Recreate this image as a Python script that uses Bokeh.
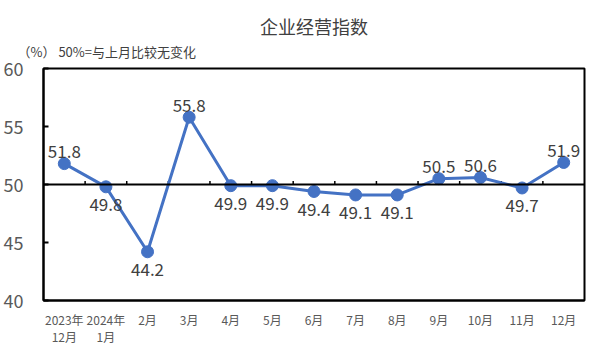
from bokeh.plotting import figure
from bokeh.models import ColumnDataSource, Span, Title, FixedTicker
from bokeh.core.properties import value
from bokeh.embed import file_html
from bokeh.resources import INLINE

categories = ["2023年\n12月", "2024年\n1月", "2月", "3月", "4月", "5月", "6月",
              "7月", "8月", "9月", "10月", "11月", "12月"]
values = [51.8, 49.8, 44.2, 55.8, 49.9, 49.9, 49.4, 49.1, 49.1, 50.5, 50.6, 49.7, 51.9]
label_side = ["above", "below", "below", "above", "below", "below", "below",
              "below", "below", "above", "above", "below", "above"]
y_ticks = [40, 45, 50, 55, 60]
title_text = "企业经营指数"
note_text = "（%）  50%=与上月比较无变化"

FONT = "Noto Sans CJK SC"
BLUE = "#4472C4"
GREY = "#595959"

xs = list(range(len(categories)))
src = ColumnDataSource(dict(
    x=xs, y=values,
    txt=[f"{v:.1f}" for v in values],
    off=[-12 if s == "above" else 18 for s in label_side],
))

p = figure(width=591, height=354, output_backend="svg", toolbar_location=None,
           x_range=(-0.5, len(categories) - 0.5), y_range=(40, 60),
           min_border_left=43, min_border_right=7, min_border_top=68, min_border_bottom=54)
p.outline_line_color = "black"
p.outline_line_width = 2
p.grid.visible = False
p.background_fill_color = "white"
p.border_fill_color = "white"

# y axis
p.yaxis.ticker = FixedTicker(ticks=y_ticks)
p.yaxis.major_tick_in = 5
p.yaxis.major_tick_out = 0
p.yaxis.minor_tick_line_color = None
p.yaxis.axis_line_color = "black"
p.yaxis.axis_line_width = 2
p.yaxis.major_tick_line_width = 2
p.yaxis.major_label_standoff = 20
p.yaxis.major_label_text_font = FONT
p.yaxis.major_label_text_font_size = "18px"
p.yaxis.major_label_text_color = GREY

# x axis
p.xaxis.ticker = FixedTicker(ticks=xs)
p.xaxis.major_label_overrides = {i: c for i, c in enumerate(categories)}
p.xaxis.major_tick_line_color = None
p.xaxis.minor_tick_line_color = None
p.xaxis.axis_line_color = "black"
p.xaxis.axis_line_width = 2
p.xaxis.major_label_standoff = 4
p.xaxis.major_label_text_font = FONT
p.xaxis.major_label_text_font_size = "12px"
p.xaxis.major_label_text_line_height = 1.0
p.xaxis.major_label_text_color = GREY

# 50 line and boundary ticks on it
p.add_layout(Span(location=50, dimension="width", line_color="black", line_width=2))
bx = [i + 0.5 for i in xs[:-1]]
p.segment(x0=bx, x1=bx, y0=[50] * len(bx), y1=[50.3] * len(bx), line_color="black", line_width=1.5)

p.line("x", "y", source=src, line_color=BLUE, line_width=3)
p.scatter("x", "y", source=src, size=12, fill_color=BLUE, line_color=BLUE)
p.text("x", "y", text="txt", source=src, y_offset="off", text_align="center",
       text_baseline="middle", text_font=value(FONT), text_font_size="17px",
       text_color="#404040")

p.add_layout(Title(text=note_text, align="left", offset=-26, standoff=16,
                   text_font=FONT, text_font_size="13px", text_font_style="normal",
                   text_color="#404040"), "above")
p.add_layout(Title(text=title_text, align="center", standoff=-14,
                   text_font=FONT, text_font_size="18px", text_font_style="normal",
                   text_color="#404040"), "above")

open("out.html", "w").write(file_html(p, INLINE))
